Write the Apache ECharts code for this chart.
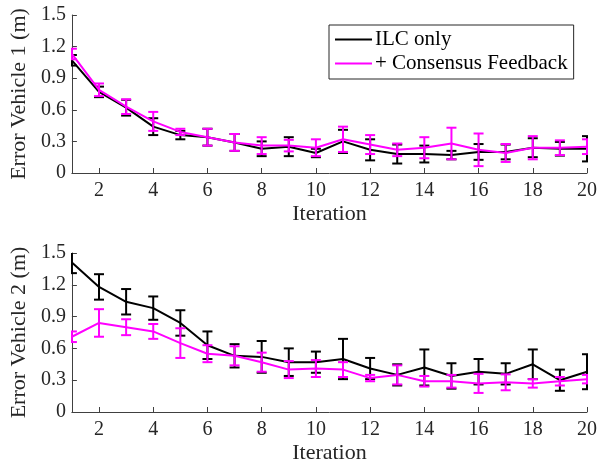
<!DOCTYPE html>
<html>
<head>
<meta charset="utf-8">
<script src="https://cdn.jsdelivr.net/npm/echarts@6/dist/echarts.min.js"></script>
<style>
  html, body { margin: 0; padding: 0; background: #fff; }
  #chart { width: 600px; height: 470px; }
</style>
</head>
<body>
<div id="chart"></div>
<script>
/* data */
var iterations = [1, 2, 3, 4, 5, 6, 7, 8, 9, 10, 11, 12, 13, 14, 15, 16, 17, 18, 19, 20];
var xTicks = [2, 4, 6, 8, 10, 12, 14, 16, 18, 20];

// vehicle 1
var v1Ilc = [1.07, 0.77, 0.62, 0.44, 0.36, 0.34, 0.29, 0.23, 0.25, 0.19, 0.30, 0.22, 0.18, 0.18, 0.17, 0.20, 0.20, 0.24, 0.23, 0.23];
var v1IlcErr = [0.05, 0.05, 0.075, 0.08, 0.04, 0.08, 0.08, 0.07, 0.09, 0.04, 0.11, 0.10, 0.09, 0.08, 0.04, 0.075, 0.07, 0.09, 0.065, 0.12];
var v1Cons = [1.13, 0.79, 0.63, 0.49, 0.39, 0.34, 0.29, 0.26, 0.26, 0.24, 0.32, 0.27, 0.22, 0.24, 0.28, 0.22, 0.19, 0.24, 0.24, 0.25];
var v1ConsErr = [0.05, 0.06, 0.07, 0.09, 0.03, 0.08, 0.08, 0.08, 0.055, 0.08, 0.12, 0.09, 0.06, 0.10, 0.15, 0.155, 0.085, 0.11, 0.07, 0.07];

// vehicle 2
var v2Ilc = [1.41, 1.18, 1.04, 0.98, 0.84, 0.63, 0.53, 0.52, 0.47, 0.47, 0.50, 0.41, 0.35, 0.42, 0.34, 0.38, 0.36, 0.45, 0.30, 0.38];
var v2IlcErr = [0.10, 0.12, 0.12, 0.11, 0.12, 0.13, 0.11, 0.15, 0.13, 0.10, 0.19, 0.10, 0.10, 0.17, 0.12, 0.12, 0.10, 0.14, 0.10, 0.165];
var v2Cons = [0.71, 0.84, 0.80, 0.76, 0.65, 0.55, 0.53, 0.47, 0.40, 0.41, 0.40, 0.32, 0.35, 0.29, 0.29, 0.27, 0.28, 0.27, 0.29, 0.31];
var v2ConsErr = [0.05, 0.13, 0.075, 0.07, 0.14, 0.08, 0.09, 0.09, 0.08, 0.08, 0.07, 0.03, 0.09, 0.05, 0.06, 0.09, 0.075, 0.04, 0.04, 0.04];

var names = ['ILC only', '+ Consensus Feedback'];
var colors = ['#000000', '#ff00ff'];

var font = 'Liberation Serif';
var axisColor = '#404040';
var textColor = '#262626';

function pairs(vals) {
    return iterations.map(function (it, i) { return [it, vals[i]]; });
}
function errData(vals, errs) {
    return iterations.map(function (it, i) { return [it, vals[i] - errs[i], vals[i] + errs[i]]; });
}

// error bar with caps, mapped through the axes
function errorBar(color) {
    return function (params, api) {
        var lo = api.coord([api.value(0), api.value(1)]);
        var hi = api.coord([api.value(0), api.value(2)]);
        var w = 5;
        var style = { stroke: color, lineWidth: 2 };
        return {
            type: 'group',
            children: [
                { type: 'line', shape: { x1: lo[0], y1: lo[1], x2: hi[0], y2: hi[1] }, style: style },
                { type: 'line', shape: { x1: lo[0] - w, y1: lo[1], x2: lo[0] + w, y2: lo[1] }, style: style },
                { type: 'line', shape: { x1: hi[0] - w, y1: hi[1], x2: hi[0] + w, y2: hi[1] }, style: style }
            ]
        };
    };
}

function xAxis(idx) {
    return {
        type: 'value', gridIndex: idx, min: 1, max: 20,
        name: 'Iteration', nameLocation: 'middle', nameGap: 30,
        nameTextStyle: { fontFamily: font, fontSize: 22, color: textColor },
        axisLine: { show: true, lineStyle: { color: axisColor, width: 1 } },
        axisTick: { show: true, inside: true, length: 5, customValues: xTicks, lineStyle: { color: axisColor } },
        axisLabel: { customValues: xTicks, fontFamily: font, fontSize: 20, color: textColor, margin: 8 },
        splitLine: { show: false }
    };
}
function yAxis(idx, title) {
    return {
        type: 'value', gridIndex: idx, min: 0, max: 1.5, interval: 0.3,
        name: title, nameLocation: 'middle', nameGap: 37,
        nameTextStyle: { fontFamily: font, fontSize: 22, color: textColor },
        axisLine: { show: true, lineStyle: { color: axisColor, width: 1 } },
        axisTick: { show: true, inside: true, length: 5, lineStyle: { color: axisColor } },
        axisLabel: { fontFamily: font, fontSize: 20, color: textColor, margin: 6,
            formatter: function (v) { return String(Math.round(v * 10) / 10); } },
        splitLine: { show: false }
    };
}

function seriesFor(idx, means, errs) {
    var out = [];
    for (var k = 0; k < 2; k++) {
        out.push({
            name: names[k] + ' err', type: 'custom', xAxisIndex: idx, yAxisIndex: idx,
            renderItem: errorBar(colors[k]), clip: true, silent: true,
            encode: { x: 0, y: [1, 2] }, data: errData(means[k], errs[k]), z: 2 + k * 2
        });
        out.push({
            name: names[k], type: 'line', xAxisIndex: idx, yAxisIndex: idx,
            symbol: 'none', lineStyle: { color: colors[k], width: 2 }, itemStyle: { color: colors[k] },
            data: pairs(means[k]), z: 3 + k * 2, animation: false
        });
    }
    return out;
}

var myChart = echarts.init(document.getElementById('chart'));
var option = {
    animation: false,
    backgroundColor: '#fff',
    grid: [
        { left: 67, right: 11, top: 15, height: 158 },
        { left: 67, right: 11, top: 253, height: 159 }
    ],
    legend: {
        data: names, orient: 'vertical', left: 329, top: 25,
        icon: 'rect', itemWidth: 37, itemHeight: 2,
        backgroundColor: '#fff', borderColor: '#262626', borderWidth: 1, borderRadius: 0,
        padding: [4, 6, 5, 6], itemGap: 3,
        textStyle: { fontFamily: font, fontSize: 21, color: '#000', padding: [0, 0, 0, -2] }
    },
    xAxis: [xAxis(0), xAxis(1)],
    yAxis: [yAxis(0, 'Error Vehicle 1 (m)'), yAxis(1, 'Error Vehicle 2 (m)')],
    series: seriesFor(0, [v1Ilc, v1Cons], [v1IlcErr, v1ConsErr])
        .concat(seriesFor(1, [v2Ilc, v2Cons], [v2IlcErr, v2ConsErr]))
};
myChart.setOption(option);
</script>
</body>
</html>
